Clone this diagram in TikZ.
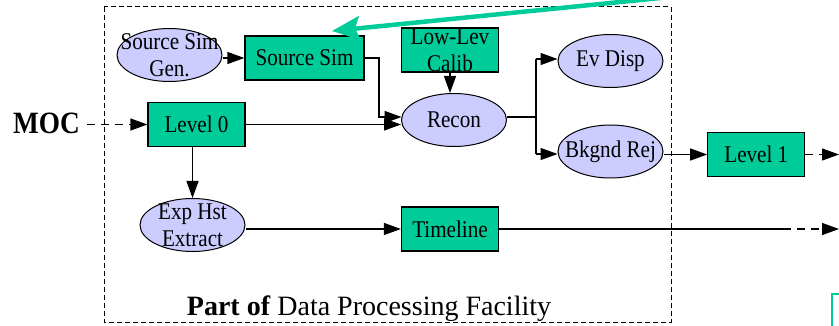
\documentclass[tikz,border=0pt]{standalone}
\usepackage{fontspec}
\setmainfont{Liberation Serif}
\newfontfamily\narrowfont{Liberation Serif}[FakeStretch=0.88]
\usetikzlibrary{shapes.geometric,arrows.meta}
\definecolor{tealg}{RGB}{0,204,153}
\definecolor{lav}{RGB}{204,204,255}
\begin{document}
\begin{tikzpicture}[x=1pt,y=-1pt,
  box/.style={draw=black, line width=1.2pt, fill=tealg, minimum width=97pt, minimum height=44pt, inner sep=0pt, font=\narrowfont\fontsize{24}{27}\selectfont, align=center},
  oval/.style={ellipse, draw=black, line width=1pt, fill=lav, minimum width=105pt, minimum height=53pt, inner sep=0pt},
  lbl/.style={font=\narrowfont\fontsize{24}{27}\selectfont, align=center, inner sep=0pt},
  conn/.style={line width=1.2pt, -{Triangle[length=17pt,width=12pt]}},
  plainline/.style={line width=1.2pt},
  dconn/.style={conn, dash pattern=on 8pt off 6pt},
  frame/.style={line width=1pt, dash pattern=on 5pt off 3pt}]
\useasboundingbox (0,0) rectangle (839,326);
\draw[frame] (104,7) rectangle (671,322);
% nodes
\node[oval, label={[lbl]center:Source Sim\\Gen.}] (ssg) at (169.5,55) {};
\node[box, minimum width=119pt] (ss) at (304.5,58) {Source Sim};
\node[box] (llc) at (450,50) {Low-Lev\\Calib};
\node[box] (l0) at (196.5,124.5) {Level 0};
\node[oval, label={[lbl]center:Recon}] (recon) at (454,120) {};
\node[oval, label={[lbl]center:Ev Disp}] (ev) at (610.5,61) {};
\node[oval, label={[lbl]center:Bkgnd Rej}] (bk) at (610.5,151.5) {};
\node[box] (l1) at (756.3,154.5) {Level 1};
\node[oval, label={[lbl]center:Exp Hst\\Extract}] (exp) at (192.5,225) {};
\node[box] (tl) at (450,229) {Timeline};
\node[font=\narrowfont\fontsize{31}{33}\selectfont\bfseries, anchor=base] (moc) at (46.5,134) {MOC};
\node[font=\fontsize{28}{30}\selectfont, anchor=base] (title) at (369,315) {\textbf{Part of} Data Processing Facility};
% coordinates
\coordinate (bend1) at (379,117);
\coordinate (r1) at (401.5,117);
\coordinate (sp) at (536,117);
\coordinate (spT) at (536,59);
\coordinate (spB) at (536,154);
\coordinate (out1) at (839,154.5);
\coordinate (tlm) at (783,229);
\coordinate (out2) at (839,229);
\coordinate (gs) at (670,-3);
\coordinate (gt) at (332,31);
% connectors
\draw[conn] (ss.west -| ssg.east) -- (ss.west);
\draw[conn] (ss.east) -| (bend1) -- (r1);
\draw[conn] (l0.east) -- (l0.east -| recon.west);
\draw[conn] (llc.south) -- (llc.south |- recon.north);
\draw[plainline] (recon.east |- sp) -- (sp);
\draw[plainline] (spT) -- (spB);
\draw[conn] (spT) -- (spT -| ev.west);
\draw[conn] (spB) -- (spB -| bk.west);
\draw[conn] (bk.east |- l1) -- (l1.west);
\draw[dconn] (l1.east) -- (out1);
\draw[dconn] ([xshift=4pt]moc.east |- l0.west) -- (l0.west);
\draw[conn] (l0.south -| exp.north) -- (exp.north);
\draw[conn] (exp.east |- tl) -- (tl.west);
\draw[plainline] (tl.east) -- (tlm);
\draw[dconn] (tlm) -- (out2);
% green arrow
\draw[tealg, line width=4.5pt, -{Stealth[length=28pt,width=24pt,inset=5pt]}] (gs) -- (gt);
% partial teal box at bottom right
\draw[tealg, line width=2pt] (832,330) -- (832,294) -- (845,294);
\end{tikzpicture}
\end{document}
